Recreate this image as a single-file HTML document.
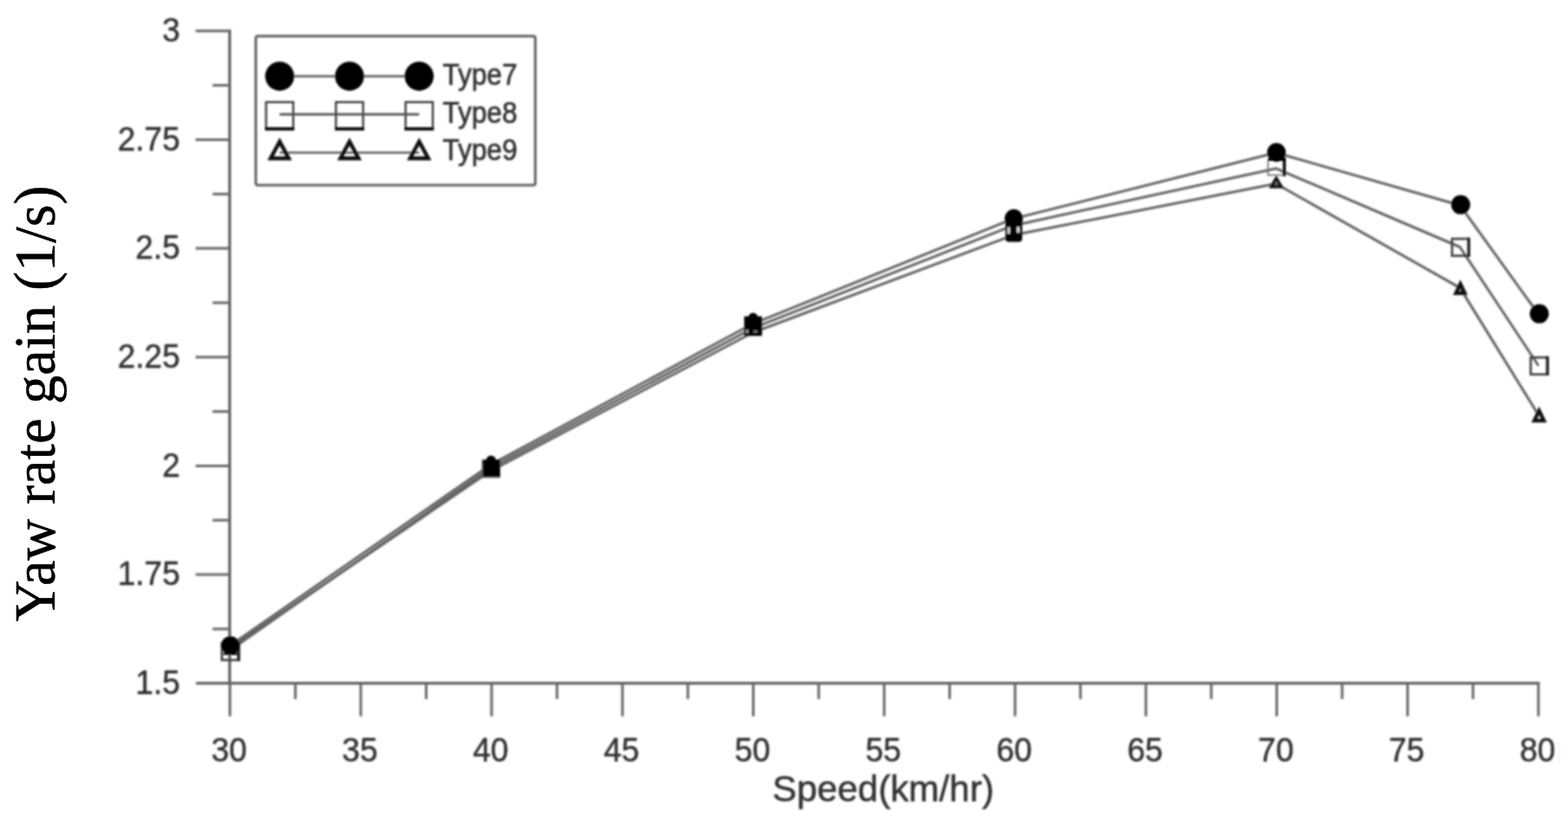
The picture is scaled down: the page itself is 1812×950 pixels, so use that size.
<!DOCTYPE html>
<html lang="en"><head><meta charset="utf-8"><title>Yaw rate gain vs Speed</title>
<style>
html,body{margin:0;padding:0;background:#fff;}
body{width:1812px;height:950px;overflow:hidden;position:relative;}
svg{position:absolute;left:0;top:0;display:block;}
.sans{font-family:"Liberation Sans",sans-serif;}
.serif{font-family:"Liberation Serif",serif;}
</style></head><body>
<svg width="1812" height="950" viewBox="0 0 1812 950">
<defs><filter id="b" x="-5%" y="-5%" width="110%" height="110%"><feGaussianBlur stdDeviation="1.00"/></filter></defs>
<rect width="1812" height="950" fill="#fff"/>
<g transform="translate(62.8,466.4) rotate(-90) scale(0.968,1)"><text class="serif" x="0" y="0" font-size="68.6" text-anchor="middle" fill="#000" stroke="#000" stroke-width="0.5">Yaw rate gain (1/s)</text></g>
<g filter="url(#b)">
<g stroke="#626262" stroke-width="3.30" fill="none" stroke-linecap="butt">
<path d="M265.4 34.3 V789.7"/>
<path d="M226.5 789.7 H1779.3"/>
</g>
<g stroke="#686868" stroke-width="3.00" fill="none" stroke-linecap="butt">
<path d="M245.6 726.9 H265.7"/>
<path d="M226.0 664.1 H265.7"/>
<path d="M245.6 601.2 H265.7"/>
<path d="M226.0 538.4 H265.7"/>
<path d="M245.6 475.6 H265.7"/>
<path d="M226.0 412.8 H265.7"/>
<path d="M245.6 349.9 H265.7"/>
<path d="M226.0 287.1 H265.7"/>
<path d="M245.6 224.3 H265.7"/>
<path d="M226.0 161.4 H265.7"/>
<path d="M245.6 98.6 H265.7"/>
<path d="M226.0 35.8 H265.7"/>
<path d="M265.7 789.7 V827.9"/>
<path d="M341.3 789.7 V807.9"/>
<path d="M416.9 789.7 V827.9"/>
<path d="M492.5 789.7 V807.9"/>
<path d="M568.1 789.7 V827.9"/>
<path d="M643.7 789.7 V807.9"/>
<path d="M719.3 789.7 V827.9"/>
<path d="M794.9 789.7 V807.9"/>
<path d="M870.5 789.7 V827.9"/>
<path d="M946.1 789.7 V807.9"/>
<path d="M1021.8 789.7 V827.9"/>
<path d="M1097.4 789.7 V807.9"/>
<path d="M1173.0 789.7 V827.9"/>
<path d="M1248.6 789.7 V807.9"/>
<path d="M1324.2 789.7 V827.9"/>
<path d="M1399.8 789.7 V807.9"/>
<path d="M1475.4 789.7 V827.9"/>
<path d="M1551.0 789.7 V807.9"/>
<path d="M1626.6 789.7 V827.9"/>
<path d="M1702.2 789.7 V807.9"/>
<path d="M1777.8 789.7 V827.9"/>
</g>
<g class="sans" font-size="37.0" fill="#303030" stroke="#303030" stroke-width="0.5">
<text transform="translate(208.0,48.1) scale(1,1.045)" text-anchor="end">3</text>
<text transform="translate(208.0,173.7) scale(1,1.045)" text-anchor="end">2.75</text>
<text transform="translate(208.0,299.4) scale(1,1.045)" text-anchor="end">2.5</text>
<text transform="translate(208.0,425.1) scale(1,1.045)" text-anchor="end">2.25</text>
<text transform="translate(208.0,550.7) scale(1,1.045)" text-anchor="end">2</text>
<text transform="translate(208.0,676.4) scale(1,1.045)" text-anchor="end">1.75</text>
<text transform="translate(208.0,802.0) scale(1,1.045)" text-anchor="end">1.5</text>
<text transform="translate(264.7,880.0) scale(1,1.045)" text-anchor="middle">30</text>
<text transform="translate(415.9,880.0) scale(1,1.045)" text-anchor="middle">35</text>
<text transform="translate(567.1,880.0) scale(1,1.045)" text-anchor="middle">40</text>
<text transform="translate(718.3,880.0) scale(1,1.045)" text-anchor="middle">45</text>
<text transform="translate(869.5,880.0) scale(1,1.045)" text-anchor="middle">50</text>
<text transform="translate(1020.8,880.0) scale(1,1.045)" text-anchor="middle">55</text>
<text transform="translate(1172.0,880.0) scale(1,1.045)" text-anchor="middle">60</text>
<text transform="translate(1323.2,880.0) scale(1,1.045)" text-anchor="middle">65</text>
<text transform="translate(1474.4,880.0) scale(1,1.045)" text-anchor="middle">70</text>
<text transform="translate(1625.6,880.0) scale(1,1.045)" text-anchor="middle">75</text>
<text transform="translate(1776.8,880.0) scale(1,1.045)" text-anchor="middle">80</text>
</g>
<g class="sans" font-size="42.3" fill="#303030" stroke="#303030" stroke-width="0.5">
<text x="1020.7" y="925.8" text-anchor="middle">Speed(km/hr)</text>
</g>
<path d="M1801.6 857 V883" stroke="#eeeeee" stroke-width="1.2"/>
<rect x="295.6" y="41.8" width="323.0" height="172.2" rx="2.5" fill="none" stroke="#626262" stroke-width="3.0"/>
<path d="M323.2 88.1 H484.4" stroke="#636363" stroke-width="2.8"/>
<circle cx="323.2" cy="88.1" r="16.8" fill="#000"/>
<circle cx="403.9" cy="88.1" r="16.8" fill="#000"/>
<circle cx="484.4" cy="88.1" r="16.8" fill="#000"/>
<rect x="307.5" y="118.0" width="31.4" height="31.4" fill="none" stroke="#333" stroke-width="2.3"/>
<rect x="306.3" y="147.0" width="33.8" height="3.8" fill="#111"/>
<rect x="388.2" y="118.0" width="31.4" height="31.4" fill="none" stroke="#333" stroke-width="2.3"/>
<rect x="387.0" y="147.0" width="33.8" height="3.8" fill="#111"/>
<rect x="468.7" y="118.0" width="31.4" height="31.4" fill="none" stroke="#333" stroke-width="2.3"/>
<rect x="467.5" y="147.0" width="33.8" height="3.8" fill="#111"/>
<path d="M323.2 132.2 H484.4" stroke="#505050" stroke-width="2.7"/>
<path d="M323.2 176.4 H484.4" stroke="#6a6a6a" stroke-width="2.9"/>
<path fill-rule="evenodd" d="M323.2 158.9 L337.4 185.2 L309.0 185.2 Z M323.2 168.2 L316.4 180.8 L330.0 180.8 Z" fill="#0a0a0a"/>
<path fill-rule="evenodd" d="M403.9 158.9 L418.1 185.2 L389.7 185.2 Z M403.9 168.2 L397.1 180.8 L410.7 180.8 Z" fill="#0a0a0a"/>
<path fill-rule="evenodd" d="M484.4 158.9 L498.6 185.2 L470.2 185.2 Z M484.4 168.2 L477.6 180.8 L491.2 180.8 Z" fill="#0a0a0a"/>
<g class="sans" font-size="33.0" fill="#303030" stroke="#303030" stroke-width="0.65">
<text transform="translate(511.6,97.8) scale(1,1.045)" text-anchor="start" textLength="86.2" lengthAdjust="spacingAndGlyphs">Type7</text>
<text transform="translate(511.6,141.7) scale(1,1.045)" text-anchor="start" textLength="86.2" lengthAdjust="spacingAndGlyphs">Type8</text>
<text transform="translate(511.6,185.3) scale(1,1.045)" text-anchor="start" textLength="86.2" lengthAdjust="spacingAndGlyphs">Type9</text>
</g>
<polyline points="265.4,749.4 566.6,544.4 869.7,384.5 1170.7,271.8 1474.5,212.3 1687.1,332.6 1777.9,479.6" fill="none" stroke="#636363" stroke-width="3.00" stroke-linejoin="round"/>
<polyline points="265.4,751.8 566.6,541.0 869.7,379.4 1170.7,260.7 1474.5,194.7 1687.1,285.5 1777.9,422.6" fill="none" stroke="#636363" stroke-width="3.00" stroke-linejoin="round"/>
<polyline points="265.4,746.6 566.6,537.4 869.7,374.3 1170.7,252.9 1474.5,176.5 1687.1,237.2 1777.9,363.2" fill="none" stroke="#636363" stroke-width="3.00" stroke-linejoin="round"/>
<path d="M266.2 749.4 L264.5 752.8 L267.9 752.8 Z" fill="#000"/>
<path fill-rule="evenodd" d="M266.2 740.0 L274.7 757.0 L257.7 757.0 Z M266.2 749.4 L264.5 752.8 L267.9 752.8 Z" fill="#0a0a0a"/>
<rect x="256.4" y="743.2" width="19.6" height="19.6" fill="none" stroke="#3c3c3c" stroke-width="2.6"/>
<path d="M275.7 741.9 V764.1" stroke="#1e1e1e" stroke-width="3.4"/>
<circle cx="266.2" cy="745.8" r="10.6" fill="#000"/>
<rect x="557.0" y="531.2" width="21.0" height="20.8" fill="#000"/>
<path d="M557.5 531.5 V551.5 H577.5" fill="none" stroke="#555" stroke-width="1.6"/>
<ellipse cx="567.4" cy="532.0" rx="5.6" ry="5.6" fill="#000"/>
<rect x="860.0" y="365.6" width="20.6" height="22.6" fill="#000"/>
<ellipse cx="870.3" cy="366.6" rx="5.4" ry="5.2" fill="#000"/>
<rect x="862.2" y="381.2" width="2.4" height="3.6" fill="#b5b5b5"/>
<rect x="871.0" y="381.8" width="4.4" height="2.6" fill="#777"/>
<path d="M1161.9 252.5 V275.5 Q1161.9 279.4 1165.5 279.4 H1177.5 Q1181.3 279.4 1181.3 275.5 V252.5 Z" fill="#000"/>
<circle cx="1171.6" cy="252.4" r="10.6" fill="#000"/>
<rect x="1164.3" y="262.6" width="2.6" height="7.4" fill="#e6e6e6"/>
<rect x="1175.2" y="262.2" width="2.8" height="6.6" fill="#e6e6e6"/>
<path fill-rule="evenodd" d="M1474.9 202.4 L1483.6 217.4 L1466.2 217.4 Z M1474.9 209.4 L1472.3 213.9 L1477.5 213.9 Z" fill="#0a0a0a"/>
<path d="M1465.3 186 V202.3 H1484" fill="none" stroke="#777" stroke-width="1.8"/>
<path d="M1484.2 182 V203.6" stroke="#000" stroke-width="3.4"/>
<path d="M1465 184.5 H1485.5" stroke="#000" stroke-width="3"/>
<circle cx="1475.1" cy="176.1" r="10.8" fill="#000"/>
<path fill-rule="evenodd" d="M1687.6 323.3 L1696.1 341.0 L1679.1 341.0 Z M1687.6 333.0 L1685.8 336.8 L1689.4 336.8 Z" fill="#0a0a0a"/>
<rect x="1678.0" y="276.0" width="19.6" height="19.6" fill="none" stroke="#3c3c3c" stroke-width="2.6"/>
<path d="M1697.3 274.7 V296.9" stroke="#1e1e1e" stroke-width="3.4"/>
<circle cx="1688.0" cy="236.6" r="11.0" fill="#000"/>
<path fill-rule="evenodd" d="M1778.6 469.8 L1787.5 488.2 L1769.7 488.2 Z M1778.6 479.4 L1776.4 484.0 L1780.8 484.0 Z" fill="#0a0a0a"/>
<rect x="1768.9" y="413.1" width="19.6" height="19.6" fill="none" stroke="#3c3c3c" stroke-width="2.6"/>
<path d="M1788.2 411.8 V434.0" stroke="#1e1e1e" stroke-width="3.4"/>
<circle cx="1778.8" cy="362.6" r="11.0" fill="#000"/>
</g>
</svg>
</body></html>
